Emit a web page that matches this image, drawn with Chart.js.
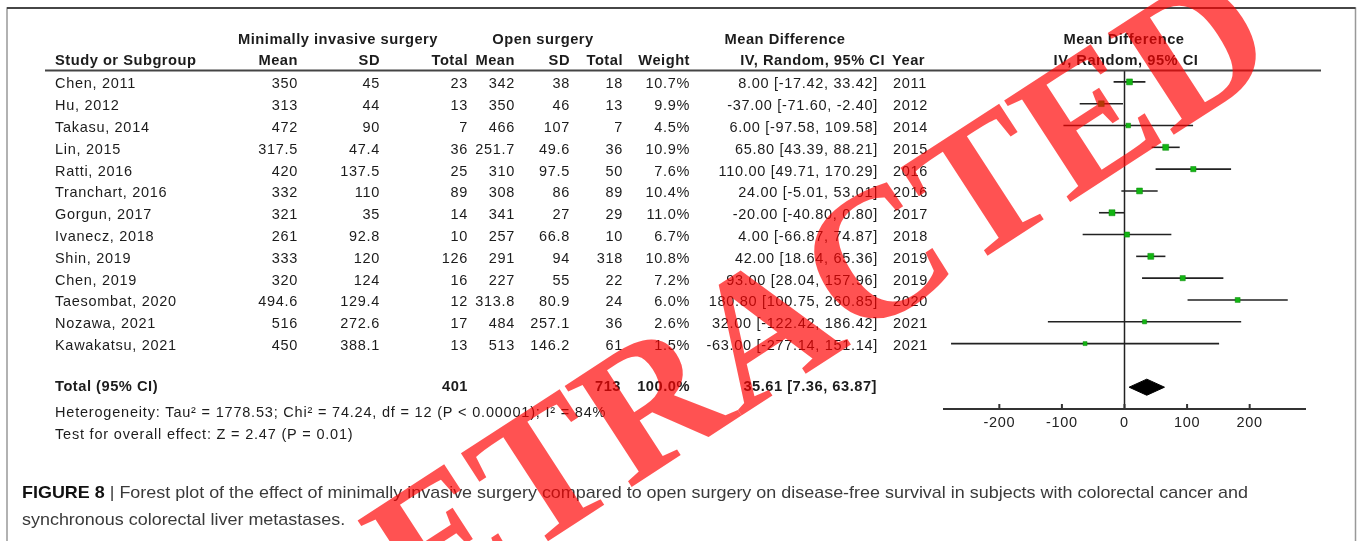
<!DOCTYPE html>
<html lang="en">
<head>
<meta charset="UTF-8">
<title>Forest plot - disease-free survival</title>
<script src="https://cdn.jsdelivr.net/npm/chart.js"></script>
<style>
  body { margin: 0; background: #fff; }
  canvas { display: block; }
</style>
</head>
<body>
<canvas id="forest" width="1357" height="541"></canvas>

<script>
// study data
const studies = ['Chen, 2011', 'Hu, 2012', 'Takasu, 2014', 'Lin, 2015', 'Ratti, 2016', 'Tranchart, 2016', 'Gorgun, 2017',
  'Ivanecz, 2018', 'Shin, 2019', 'Chen, 2019', 'Taesombat, 2020', 'Nozawa, 2021', 'Kawakatsu, 2021'];
const misMean = [350, 313, 472, 317.5, 420, 332, 321, 261, 333, 320, 494.6, 516, 450];
const misSD = [45, 44, 90, 47.4, 137.5, 110, 35, 92.8, 120, 124, 129.4, 272.6, 388.1];
const misTotal = [23, 13, 7, 36, 25, 89, 14, 10, 126, 16, 12, 17, 13];
const openMean = [342, 350, 466, 251.7, 310, 308, 341, 257, 291, 227, 313.8, 484, 513];
const openSD = [38, 46, 107, 49.6, 97.5, 86, 27, 66.8, 94, 55, 80.9, 257.1, 146.2];
const openTotal = [18, 13, 7, 36, 50, 89, 29, 10, 318, 22, 24, 36, 61];
const weights = [10.7, 9.9, 4.5, 10.9, 7.6, 10.4, 11.0, 6.7, 10.8, 7.2, 6.0, 2.6, 1.5];
const meanDiff = [8.00, -37.00, 6.00, 65.80, 110.00, 24.00, -20.00, 4.00, 42.00, 93.00, 180.80, 32.00, -63.00];
const ciLow = [-17.42, -71.60, -97.58, 43.39, 49.71, -5.01, -40.80, -66.87, 18.64, 28.04, 100.75, -122.42, -277.14];
const ciHigh = [33.42, -2.40, 109.58, 88.21, 170.29, 53.01, 0.80, 74.87, 65.36, 157.96, 260.85, 186.42, 151.14];
const years = [2011, 2012, 2014, 2015, 2016, 2016, 2017, 2018, 2019, 2019, 2020, 2021, 2021];

// pooled result
const pooled = [35.61, 7.36, 63.87];   // estimate, low, high
const pooledTotals = [401, 713];
const xTicks = [-200, -100, 0, 100, 200];

const TOTAL_ROW = 14;
const FONT = '"Liberation Sans", Arial, sans-serif';

// one dataset per confidence interval line
const ciSets = studies.map((s, i) => ({
  type: 'line',
  data: [{x: ciLow[i], y: i}, {x: ciHigh[i], y: i}],
  borderColor: '#222',
  borderWidth: 1.6,
  pointRadius: 0,
  order: 2
}));

const pointSet = {
  type: 'scatter',
  data: studies.map((s, i) => ({x: meanDiff[i], y: i})),
  pointStyle: 'rect',
  pointRadius: weights.map(w => 2.6 + w * 0.15),
  backgroundColor: '#13b513',
  borderColor: '#0a8a0a',
  borderWidth: 0.5,
  order: 0
};

const h = 0.37;
const diamondSet = {
  type: 'line',
  data: [
    {x: pooled[1], y: TOTAL_ROW}, {x: pooled[0], y: TOTAL_ROW - h},
    {x: pooled[2], y: TOTAL_ROW}, {x: pooled[0], y: TOTAL_ROW + h},
    {x: pooled[1], y: TOTAL_ROW}
  ],
  borderColor: '#000',
  backgroundColor: '#000',
  borderWidth: 1,
  fill: 'shape',
  pointRadius: 0,
  tension: 0,
  order: 1
};

function txt(ctx, s, x, y, align, font, color, spacing) {
  ctx.font = font;
  ctx.letterSpacing = spacing || '0px';
  ctx.textAlign = align;
  ctx.fillStyle = color || '#1c1c1c';
  ctx.fillText(s, x, y);
}

const forestPlugin = {
  id: 'forestPlugin',
  beforeDatasetsDraw(chart) {
    const {ctx, chartArea, scales: {x, y}} = chart;
    ctx.save();
    // zero line
    ctx.strokeStyle = '#222';
    ctx.lineWidth = 1.5;
    ctx.beginPath();
    ctx.moveTo(x.getPixelForValue(0), chartArea.top);
    ctx.lineTo(x.getPixelForValue(0), chartArea.bottom);
    ctx.stroke();
    // bottom axis, ticks point up
    ctx.lineWidth = 2;
    ctx.strokeStyle = '#333';
    ctx.beginPath();
    ctx.moveTo(chartArea.left, chartArea.bottom);
    ctx.lineTo(chartArea.right, chartArea.bottom);
    xTicks.forEach(t => {
      ctx.moveTo(x.getPixelForValue(t), chartArea.bottom - 5);
      ctx.lineTo(x.getPixelForValue(t), chartArea.bottom);
    });
    ctx.stroke();
    ctx.textBaseline = 'middle';
    xTicks.forEach(t => txt(ctx, String(t), x.getPixelForValue(t), chartArea.bottom + 14, 'center', '14.5px ' + FONT, '#222', '0.7px'));
    ctx.restore();
  },
  afterDraw(chart) {
    const {ctx, scales: {x, y}} = chart;
    ctx.save();
    ctx.textBaseline = 'middle';
    const reg = '14.5px ' + FONT;
    const bold = 'bold 14.7px ' + FONT;
    const sp = '0.7px', bsp = '0.5px';

    // frame
    ctx.strokeStyle = '#999';
    ctx.lineWidth = 1.5;
    ctx.beginPath();
    ctx.moveTo(7, 541); ctx.lineTo(7, 8); ctx.lineTo(1355.5, 8); ctx.lineTo(1355.5, 541);
    ctx.stroke();
    ctx.strokeStyle = '#222';
    ctx.beginPath();
    ctx.moveTo(7, 8); ctx.lineTo(1355.5, 8);
    ctx.stroke();

    // header
    txt(ctx, 'Minimally invasive surgery', 338, 40, 'center', bold, null, bsp);
    txt(ctx, 'Open surgery', 543, 40, 'center', bold, null, bsp);
    txt(ctx, 'Mean Difference', 785, 40, 'center', bold, null, bsp);
    txt(ctx, 'Mean Difference', 1124, 40, 'center', bold, null, bsp);
    txt(ctx, 'Study or Subgroup', 55, 61, 'left', bold, null, bsp);
    txt(ctx, 'Mean', 298, 61, 'right', bold, null, bsp);
    txt(ctx, 'SD', 380, 61, 'right', bold, null, bsp);
    txt(ctx, 'Total', 468, 61, 'right', bold, null, bsp);
    txt(ctx, 'Mean', 515, 61, 'right', bold, null, bsp);
    txt(ctx, 'SD', 570, 61, 'right', bold, null, bsp);
    txt(ctx, 'Total', 623, 61, 'right', bold, null, bsp);
    txt(ctx, 'Weight', 690, 61, 'right', bold, null, bsp);
    txt(ctx, 'IV, Random, 95% CI', 885, 61, 'right', bold, null, bsp);
    txt(ctx, 'Year', 892, 61, 'left', bold, null, bsp);
    txt(ctx, 'IV, Random, 95% CI', 1126, 61, 'center', bold, null, bsp);
    ctx.strokeStyle = '#444';
    ctx.lineWidth = 2;
    ctx.beginPath();
    ctx.moveTo(45, 70.5); ctx.lineTo(1321, 70.5);
    ctx.stroke();

    // study rows
    studies.forEach((s, i) => {
      const yy = y.getPixelForValue(i) + 2.5;
      txt(ctx, s, 55, yy, 'left', reg, null, sp);
      txt(ctx, String(misMean[i]), 298, yy, 'right', reg, null, sp);
      txt(ctx, String(misSD[i]), 380, yy, 'right', reg, null, sp);
      txt(ctx, String(misTotal[i]), 468, yy, 'right', reg, null, sp);
      txt(ctx, String(openMean[i]), 515, yy, 'right', reg, null, sp);
      txt(ctx, String(openSD[i]), 570, yy, 'right', reg, null, sp);
      txt(ctx, String(openTotal[i]), 623, yy, 'right', reg, null, sp);
      txt(ctx, weights[i].toFixed(1) + '%', 690, yy, 'right', reg, null, sp);
      txt(ctx, meanDiff[i].toFixed(2) + ' [' + ciLow[i].toFixed(2) + ', ' + ciHigh[i].toFixed(2) + ']', 878, yy, 'right', reg, null, sp);
      txt(ctx, String(years[i]), 893, yy, 'left', reg, null, sp);
    });

    // total row
    const ty = y.getPixelForValue(TOTAL_ROW) - 0.5;
    txt(ctx, 'Total (95% CI)', 55, ty, 'left', bold, null, bsp);
    txt(ctx, String(pooledTotals[0]), 468, ty, 'right', bold, null, bsp);
    txt(ctx, String(pooledTotals[1]), 621, ty, 'right', bold, null, bsp);
    txt(ctx, '100.0%', 690, ty, 'right', bold, null, bsp);
    txt(ctx, pooled[0].toFixed(2) + ' [' + pooled[1].toFixed(2) + ', ' + pooled[2].toFixed(2) + ']', 877, ty, 'right', bold, null, bsp);
    txt(ctx, 'Heterogeneity: Tau\u00b2 = 1778.53; Chi\u00b2 = 74.24, df = 12 (P < 0.00001); I\u00b2 = 84%', 55, 413, 'left', '14.5px ' + FONT, null, '0.8px');
    txt(ctx, 'Test for overall effect: Z = 2.47 (P = 0.01)', 55, 435, 'left', '14.5px ' + FONT, null, '0.8px');

    // caption, squeezed to the width of the original narrow face
    const capFont = '17px ' + FONT;
    const capBold = 'bold 17px ' + FONT;
    const lead = 'FIGURE 8';
    const rest = ' | Forest plot of the effect of minimally invasive surgery compared to open surgery on disease-free survival in subjects with colorectal cancer and';
    ctx.letterSpacing = '0px';
    ctx.font = capBold;
    const wLead = ctx.measureText(lead).width;
    ctx.font = capFont;
    const wRest = ctx.measureText(rest).width;
    const sx = (1248 - 22) / (wLead + wRest);
    ctx.save();
    ctx.translate(22, 0);
    ctx.scale(sx, 1);
    txt(ctx, lead, 0, 493, 'left', capBold, '#111');
    txt(ctx, rest, wLead, 493, 'left', capFont, '#3a3a3a');
    txt(ctx, 'synchronous colorectal liver metastases.', 0, 520, 'left', capFont, '#3a3a3a');
    ctx.restore();

    // RETRACTED stamp
    ctx.save();
    ctx.translate(770, 340);
    ctx.rotate(-33 * Math.PI / 180);
    ctx.font = 'bold 185px "Liberation Serif", "Times New Roman", serif';
    ctx.letterSpacing = '0px';
    ctx.textAlign = 'center';
    ctx.fillStyle = 'rgba(255, 0, 0, 0.68)';
    ctx.fillText('RETRACTED', 0, 0);
    ctx.restore();

    ctx.restore();
  }
};

new Chart(document.getElementById('forest'), {
  type: 'scatter',
  data: { datasets: [pointSet, diamondSet, ...ciSets] },
  options: {
    responsive: false,
    animation: false,
    layout: { padding: { left: 943, right: 51, top: 71, bottom: 132 } },
    plugins: { legend: { display: false }, tooltip: { enabled: false } },
    scales: {
      x: { type: 'linear', min: -290, max: 290, display: false },
      y: { type: 'linear', min: -0.5, max: 15, reverse: true, display: false }
    }
  },
  plugins: [forestPlugin]
});
</script>
</body>
</html>
